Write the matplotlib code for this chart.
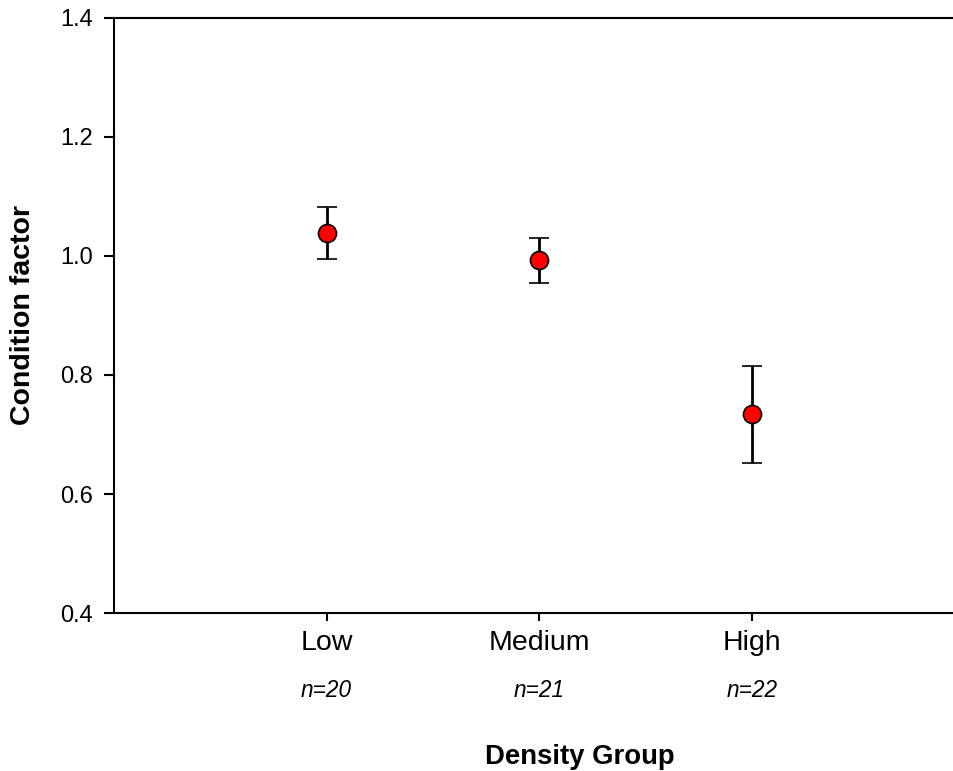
import numpy as np
from matplotlib import pyplot as plt
from matplotlib import transforms

plt.rcParams['font.family'] = ['Liberation Sans', 'DejaVu Sans']

groups = ['Low', 'Medium', 'High']
n_labels = ['n=20', 'n=21', 'n=22']
means = np.array([1.039, 0.993, 0.734])
upper = np.array([1.082, 1.030, 0.815])
lower = np.array([0.995, 0.955, 0.652])

x_vals = np.arange(1, len(groups) + 1)
err = np.vstack([means - lower, upper - means])

fig = plt.figure(figsize=(9.54, 7.71), dpi=100)
axs = fig.add_axes([0.1195, 0.2049, 0.8805, 0.7718])

axs.errorbar(x_vals, means, yerr=err, fmt='o', color='k', ecolor='k',
             elinewidth=2, capsize=7, capthick=2,
             markerfacecolor='red', markeredgecolor='k', markeredgewidth=1.2,
             markersize=13, zorder=3)

axs.set_xlim(0, 3.95)
axs.set_ylim(0.4, 1.4)
axs.set_yticks([0.4, 0.6, 0.8, 1.0, 1.2, 1.4])
axs.set_yticklabels(['0.4', '0.6', '0.8', '1.0', '1.2', '1.4'])
axs.set_xticks(x_vals)
axs.set_xticklabels(groups)
axs.tick_params(direction='out', width=1.5, color='k')
axs.tick_params(axis='x', length=6, pad=6.5, labelsize=20.5)
axs.tick_params(axis='y', length=7, pad=8, labelsize=17)
axs.spines['right'].set_visible(False)
for s in ['left', 'top', 'bottom']:
    axs.spines[s].set_linewidth(1.5)

trans = transforms.blended_transform_factory(axs.transData, fig.transFigure)
for xv, lab in zip(x_vals, n_labels):
    axs.text(xv, 1 - 697 / 771, lab, transform=trans, ha='center', va='baseline',
             fontsize=16.3, fontstyle='italic')

fig.text(580 / 954, 1 - 764 / 771, 'Density Group', ha='center', va='baseline',
         fontsize=19.8, fontweight='bold')
fig.text(23 / 954, 1 - 315 / 771, 'Condition factor', ha='center', va='center',
         rotation=90, fontsize=20.5, fontweight='bold')

fig.savefig('out.png', dpi=100)
